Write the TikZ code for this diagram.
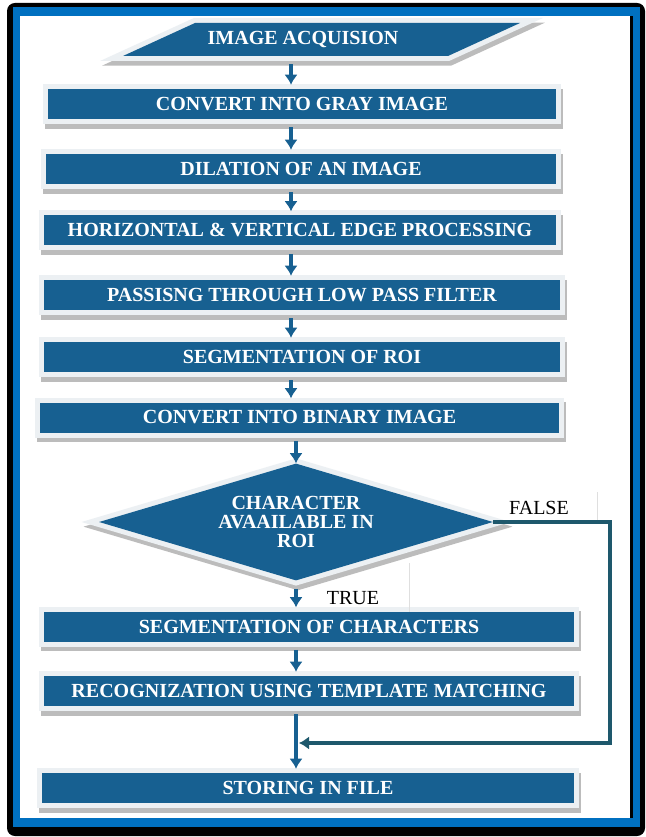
\documentclass[tikz,border=0pt]{standalone}
\usepackage{fontspec}
\setmainfont{Liberation Serif}
\usetikzlibrary{shapes.geometric,arrows.meta}
\definecolor{stepblue}{RGB}{23,96,145}
\definecolor{frameblue}{RGB}{0,112,192}
\definecolor{glowwhite}{RGB}{236,240,243}
\definecolor{shadegray}{RGB}{188,188,188}
\definecolor{loopteal}{RGB}{30,88,108}

\begin{document}
\begin{tikzpicture}[x=0.75pt, y=-0.75pt, >={Latex[length=7.5pt,width=10pt]},
    shaded/.style={fill=stepblue,
      preaction={draw=shadegray, line width=7.5pt, transform canvas={xshift=1.5pt, yshift=-3.5pt}},
      preaction={draw=glowwhite, line width=7.5pt}},
    steptext/.style={text=white, font=\fontsize{15}{14}\selectfont\bfseries},
    stepbox/.style={shaded, steptext, rectangle, minimum height=22.5pt, inner sep=0pt},
    decision/.style={shaded, steptext, diamond, align=center, aspect=3.4,
      minimum width=295.5pt, minimum height=87.75pt, inner sep=0pt},
    flow/.style={stepblue, line width=2.6pt, ->, shorten <=6pt, shorten >=3pt},
    answer/.style={font=\fontsize{15}{16}\selectfont}]
   \fill[white] (0,0) rectangle (645,837);
   \useasboundingbox (0,0) rectangle (645,837);
   \fill[black, rounded corners=6pt] (7,3) rectangle (645,836);
   \fill[frameblue] (13,7) rectangle (640,827);
   \fill[black] (20,16) rectangle (633,818);
   \fill[white] (20,16) rectangle (630,818);

   \path[shaded] (123,56) -- (195,23) -- (520,23) -- (448,56) -- cycle;
   \node[steptext, minimum height=24.75pt, inner sep=0pt] (acq) at (303,39.5) {IMAGE ACQUISION};

   \node[stepbox, minimum width=381pt]    (gray)   at (302,104)   {CONVERT INTO GRAY IMAGE};
   \node[stepbox, minimum width=382.5pt]  (dil)    at (301,169)   {DILATION OF AN IMAGE};
   \node[stepbox, minimum width=384pt]    (edge)   at (300,230.5) {HORIZONTAL \& VERTICAL EDGE PROCESSING};
   \node[stepbox, minimum width=387pt]    (lpf)    at (302,295)   {PASSISNG THROUGH LOW PASS FILTER};
   \node[stepbox, minimum width=387pt]    (roi)    at (302,357)   {SEGMENTATION OF ROI};
   \node[stepbox, minimum width=389.25pt] (bin)    at (299.5,417.5) {CONVERT INTO BINARY IMAGE};
   \node[decision] (dec) at (296,522) {CHARACTER\\AVAAILABLE IN\\ROI};
   \node[stepbox, minimum width=397.5pt]  (segch)  at (309,626.5) {SEGMENTATION OF CHARACTERS};
   \node[stepbox, minimum width=397.5pt]  (recog)  at (309,691)   {RECOGNIZATION USING TEMPLATE MATCHING};
   \node[stepbox, minimum width=399pt]    (store)  at (308,788)   {STORING IN FILE};

   \node[answer] (no)  at (539,508) {FALSE};
   \node[answer] (yes) at (353,598) {TRUE};
   \draw[gray!25, line width=0.75pt] (597,492) -- (597,520);
   \draw[gray!25, line width=0.75pt] (409,563) -- (409,612);

   \coordinate (spine) at (291,0);
   \coordinate (back) at (610,743);
   \coordinate (join) at (299,743);

   \draw[flow] (acq.south -| spine) -- (gray.north -| spine);
   \draw[flow] (gray.south -| spine) -- (dil.north -| spine);
   \draw[flow] (dil.south -| spine) -- (edge.north -| spine);
   \draw[flow] (edge.south -| spine) -- (lpf.north -| spine);
   \draw[flow] (lpf.south -| spine) -- (roi.north -| spine);
   \draw[flow] (roi.south -| spine) -- (bin.north -| spine);
   \draw[flow, shorten >=0pt] (bin.south -| dec) -- (dec);
   \draw[flow] (dec) -- (segch.north -| dec);
   \draw[flow] (segch.south -| dec) -- (recog.north -| dec);
   \draw[flow] (recog.south -| dec) -- (store.north -| dec);
   \draw[flow, loopteal, shorten <=0pt, shorten >=0pt] (dec.east) -| (back) -- (join);
\end{tikzpicture}
\end{document}
